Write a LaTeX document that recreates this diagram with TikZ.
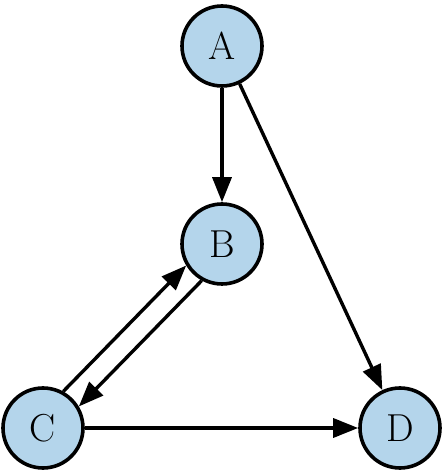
\documentclass[tikz,border=0pt]{standalone}
\usepackage{tikz}
\usetikzlibrary{%
  arrows.meta,%
  positioning,%
  calc%
}
\definecolor{nodeblue}{RGB}{180,213,235}

\begin{document}
\begin{tikzpicture}
  [
  x=1pt, y=1pt,
  font=\fontsize{39}{42}\selectfont,
  line width=3.4pt, draw=black,
  arr/.style={-{Triangle[length=25pt,width=19pt]}},
  vertex/.style={circle, inner sep = 0pt, minimum size = 80pt, draw=black, line width=3.6pt, fill=nodeblue},
  ]
  \useasboundingbox (0,0) rectangle (444,470);

  \node[vertex] (A) at (222,424) {A};
  \node[vertex] (B) at (222,226) {B};
  \node[vertex] (C) at (43,42) {C};
  \node[vertex] (D) at (400,42) {D};

  \draw[arr] (A) -- (B);
  \draw[arr] (A) -- (D);
  \draw[arr] (C.61) -- (B.211);
  \draw[arr] (B.241) -- (C.31);
  \draw[arr] (C) -- (D);

\end{tikzpicture}
\end{document}
